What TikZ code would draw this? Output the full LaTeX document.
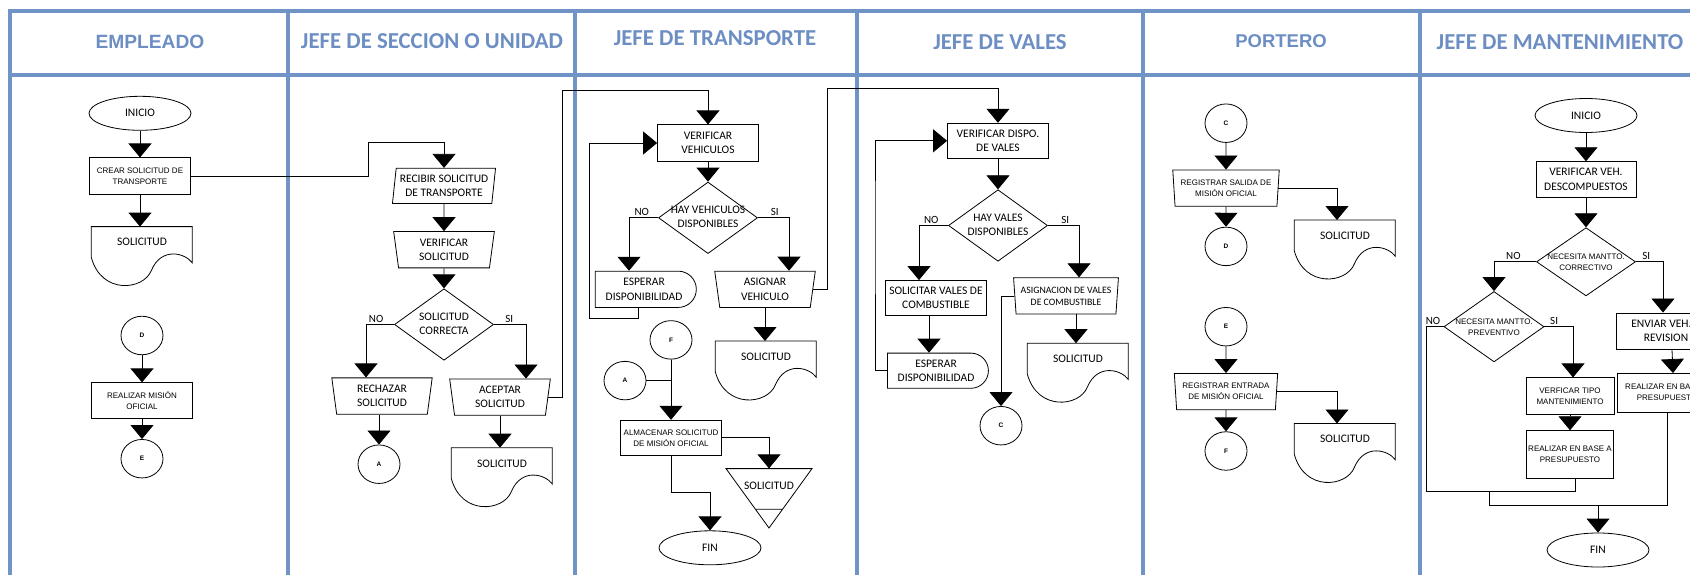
\documentclass[tikz,border=0pt]{standalone}
\usepackage{fontspec}
\setmainfont{Carlito}
\newfontfamily\arialf{Liberation Sans}
\usepackage{tikz}
\usetikzlibrary{positioning,shapes.geometric,shapes.misc,arrows.meta}
\usepackage{xcolor}

\definecolor{lanec}{RGB}{112,148,198}
\definecolor{headc}{RGB}{108,142,195}

% text of a diamond, kept out of the shape size
\newcommand{\zb}[1]{\makebox[0pt]{\raisebox{-3pt}[0pt][0pt]{\begin{tabular}{@{}c@{}}#1\end{tabular}}}}

% document symbol: name, top centre
\newcommand{\solicitud}[2]{%
  \node[doc] (#1) at #2 {SOLICITUD};
  \draw[line width=0.8pt, shift={(#1.north west)}] (0,0) -- (101,0) -- (101,33)
    .. controls (94,24) and (70,18) .. (60,40)
    .. controls (52,58) and (10,62) .. (0,28) -- cycle;}

\tikzset{
  lane/.style={draw=lanec, line width=4pt},
  head/.style={text=headc, font=\bfseries\fontsize{22.8}{26}\selectfont},
  shp/.style={draw, line width=0.8pt, align=center, inner sep=0pt, font=\fontsize{11.5}{14.3}\selectfont},
  proc/.style={shp, rectangle, minimum width=101pt, minimum height=36.3pt},
  manual/.style={shp, trapezium, trapezium left angle=97, trapezium right angle=97,
    trapezium stretches=true, minimum width=101pt, minimum height=36.3pt},
  inbox/.style={shp, trapezium, trapezium left angle=81, trapezium right angle=99,
    trapezium stretches=true, minimum width=104pt, minimum height=35.2pt},
  dec/.style={shp, diamond, minimum width=99pt, minimum height=71.5pt},
  delay/.style={shp, rounded rectangle, rounded rectangle left arc=none, minimum width=101pt, minimum height=36.3pt},
  term/.style={shp, ellipse, minimum width=102pt, minimum height=34pt},
  conn/.style={shp, ellipse, minimum width=42pt, minimum height=38.5pt, font=\arialf\bfseries\fontsize{6.5}{7}\selectfont},
  small/.style={font=\arialf\fontsize{8}{11}\selectfont},
  doc/.style={rectangle, anchor=north, minimum width=101pt, minimum height=31pt, inner sep=0pt, font=\fontsize{11.5}{14}\selectfont},
  lbl/.style={above, inner sep=1.5pt, font=\fontsize{11}{13}\selectfont},
  flow/.style={draw, line width=0.8pt, -{Triangle[width=23pt,length=14pt]}},
  wire/.style={draw, line width=0.8pt}
}

\begin{document}
\begin{tikzpicture}[x=1pt, y=-1.1pt]
  \useasboundingbox (0pt,0pt) rectangle (1690pt,-575pt);
  \clip (0pt,0pt) rectangle (1690pt,-575pt);

  % lanes
  \draw[lane] (8,10) -- (1700,10);
  \draw[lane] (8,68) -- (1700,68);
  \foreach \x in {10,288,575,857,1143,1420}
    \draw[lane] (\x,8) -- (\x,540);

  \node[head, font=\arialf\bfseries\fontsize{19.2}{22}\selectfont] (h-emp) at (150,38) {EMPLEADO};
  \node[head] (h-sec) at (432,37) {JEFE DE SECCION O UNIDAD};
  \node[head] (h-tra) at (715,35) {JEFE DE TRANSPORTE};
  \node[head] (h-val) at (1000,38) {JEFE DE VALES};
  \node[head, font=\arialf\bfseries\fontsize{18.5}{22}\selectfont] (h-por) at (1281,37) {PORTERO};
  \node[head] (h-man) at (1560,38) {JEFE DE MANTENIMIENTO};

  % empleado
  \node[term] (e-ini) at (140,103) {INICIO};
  \node[proc, small] (e-crear) at (140,160) {CREAR SOLICITUD DE\\TRANSPORTE};
  \solicitud{e-sol}{(142,206)}
  \node[conn] (e-d) at (142,305) {D};
  \node[proc, small, minimum height=35.2pt] (e-real) at (142,364) {REALIZAR MISIÓN\\OFICIAL};
  \node[conn] (e-e) at (142,417) {E};

  % jefe de seccion
  \node[inbox] (s-rec) at (444,169) {RECIBIR SOLICITUD\\DE TRANSPORTE};
  \node[manual] (s-ver) at (444,227) {VERIFICAR\\SOLICITUD};
  \node[dec] (s-dec) at (444,295) {\zb{SOLICITUD\\CORRECTA}};
  \node[manual] (s-rech) at (382,360) {RECHAZAR\\SOLICITUD};
  \node[conn] (s-a) at (379,422) {A};
  \node[manual] (s-acep) at (500,361) {ACEPTAR\\SOLICITUD};
  \solicitud{s-sol}{(502,407)}

  % jefe de transporte
  \node[proc] (t-ver) at (708,130) {VERIFICAR\\VEHICULOS};
  \node[dec] (t-dec) at (708,198) {\zb{HAY VEHICULOS\\DISPONIBLES}};
  \node[delay] (t-esp) at (644,263) {ESPERAR\\DISPONIBILIDAD};
  \node[manual] (t-asig) at (765,263) {ASIGNAR\\VEHICULO};
  \solicitud{t-sol}{(766,310)}
  \node[conn] (t-f) at (671,309) {F};
  \node[conn] (t-a) at (625,346) {A};
  \node[proc, small, minimum height=35.2pt] (t-alm) at (671,398) {ALMACENAR SOLICITUD\\DE MISIÓN OFICIAL};
  \node[doc, anchor=center, minimum width=86pt, minimum height=35.2pt] (t-arch) at (769,442) {SOLICITUD};
  \draw[line width=0.8pt, shift={(t-arch.center)}] (-43,-16) -- (43,-16) -- (0,38) -- cycle
    (-13.5,21) -- (13.5,21);
  \node[term] (t-fin) at (710,498) {FIN};

  % jefe de vales
  \node[proc, minimum height=35.2pt] (v-ver) at (998,128) {VERIFICAR DISPO.\\DE VALES};
  \node[dec] (v-dec) at (998,205) {\zb{HAY VALES\\DISPONIBLES}};
  \node[proc, minimum height=35.2pt] (v-sol1) at (936,271) {SOLICITAR VALES DE\\COMBUSTIBLE};
  \node[delay, minimum height=35.2pt] (v-esp) at (936,337) {ESPERAR\\DISPONIBILIDAD};
  \node[manual, font=\fontsize{9.8}{12}\selectfont, minimum width=105pt] (v-asig) at (1066,269) {ASIGNACION DE VALES\\DE COMBUSTIBLE};
  \node[conn] (v-c) at (1001,387) {C};
  \solicitud{v-sol}{(1078,312)}

  % portero
  \node[conn] (p-c) at (1226,112) {C};
  \node[manual, small, minimum width=107pt] (p-sal) at (1226,171) {REGISTRAR SALIDA DE\\MISIÓN OFICIAL};
  \node[conn] (p-d) at (1226,224) {D};
  \solicitud{p-sol1}{(1345,200)}
  \node[conn] (p-e) at (1226,297) {E};
  \node[manual, small, minimum width=104pt] (p-ent) at (1226,356) {REGISTRAR ENTRADA\\DE MISIÓN OFICIAL};
  \node[conn] (p-f) at (1226,410) {F};
  \solicitud{p-sol2}{(1345,385)}

  % jefe de mantenimiento
  \node[term] (m-ini) at (1586,105) {INICIO};
  \node[proc, minimum width=100pt, minimum height=35.2pt] (m-ver) at (1586,163) {VERIFICAR VEH.\\DESCOMPUESTOS};
  \node[dec, small, minimum height=68.2pt] (m-dec1) at (1586,238) {\zb{NECESITA MANTTO.\\CORRECTIVO}};
  \node[dec, small, minimum width=100pt, minimum height=70.4pt] (m-dec2) at (1494,297) {\zb{NECESITA MANTTO.\\PREVENTIVO}};
  \node[proc, small, minimum width=88pt] (m-vtipo) at (1570,360) {VERFICAR TIPO\\MANTENIMIENTO};
  \node[proc, small, minimum width=87pt, minimum height=47.3pt] (m-real1) at (1570,413) {REALIZAR EN BASE A\\PRESUPUESTO};
  \node[proc, minimum width=100pt] (m-env) at (1666,301) {ENVIAR VEH. A\\REVISION};
  \node[proc, small, minimum width=100pt, minimum height=38.5pt] (m-real2) at (1667,357) {REALIZAR EN BASE A\\PRESUPUESTO};
  \node[term] (m-fin) at (1598,500) {FIN};

  % bends
  \coordinate (k1) at (368,129);
  \coordinate (k2) at (562,82);
  \coordinate (k3) at (589,289);
  \coordinate (k4) at (827,80);
  \coordinate (k5) at (671,448);
  \coordinate (k6) at (875,200);
  \coordinate (k7) at (1426,447);
  \coordinate (k8) at (1489,447);
  \coordinate (k9) at (1598,459);

  % empleado
  \draw[flow] (e-ini) -- (e-crear);
  \draw[flow] (e-crear.south) -- (e-crear.south |- e-sol.north);
  \draw[flow] (e-d) -- (e-real);
  \draw[flow] (e-real) -- (e-e);
  \draw[flow] (e-crear.east) -| (k1) -| (s-rec.north);

  % jefe de seccion
  \draw[flow] (s-rec) -- (s-ver);
  \draw[flow] (s-ver) -- (s-dec);
  \draw[flow] (s-dec.west) -| ([xshift=-16pt]s-rech.north) node[lbl, pos=.32] {NO};
  \draw[flow] (s-dec.east) -| ([xshift=26pt]s-acep.north) node[lbl, pos=.24] {SI};
  \draw[flow] (s-rech.south -| s-a.north) -- (s-a.north);
  \draw[flow] (s-acep.south) -- (s-acep.south |- s-sol.north);
  \draw[flow] (s-acep.east) -| (k2) -| (t-ver.north);

  % jefe de transporte
  \draw[flow] (t-ver) -- (t-dec);
  \draw[flow] (t-dec.west) -| ([xshift=-15pt]t-esp.north) node[lbl, pos=.28] {NO};
  \draw[flow] (t-dec.east) -| ([xshift=24pt]t-asig.north) node[lbl, pos=.27] {SI};
  \draw[flow] ([xshift=-6pt]t-esp.south) |- (k3) |- (t-ver.west);
  \draw[flow] (t-asig.east) -| (k4) -| (v-ver.north);
  \draw[flow] (t-asig.south) -- (t-asig.south |- t-sol.north);
  \draw[flow] (t-f) -- (t-alm);
  \draw[wire] (t-a.east) -- (t-a.east -| t-f.south);
  \draw[flow] (t-alm.east) -| (t-arch.north);
  \draw[flow] (t-alm.south) -- (k5) -| (t-fin.north);

  % jefe de vales
  \draw[flow] (v-ver) -- (v-dec);
  \draw[flow] (v-dec.west) -| ([xshift=-17pt]v-sol1.north) node[lbl, pos=.29] {NO};
  \draw[flow] (v-dec.east) -| ([xshift=13pt]v-asig.north) node[lbl, pos=.28] {SI};
  \draw[flow] ([xshift=-7pt]v-sol1.south) -- ([xshift=-7pt]v-esp.north);
  \draw[flow] (v-esp.west) -| (k6) |- (v-ver.west);
  \draw[flow] (v-asig.west) -| (v-c.north);
  \draw[flow] ([xshift=10pt]v-asig.south) -- ([xshift=10pt]v-asig.south |- v-sol.north);

  % portero
  \draw[flow] (p-c) -- (p-sal);
  \draw[flow] (p-sal) -- (p-d);
  \draw[flow] (p-sal.east) -| ([xshift=-8pt]p-sol1.north);
  \draw[flow] (p-e) -- (p-ent);
  \draw[flow] (p-ent) -- (p-f);
  \draw[flow] (p-ent.east) -| ([xshift=-8pt]p-sol2.north);

  % jefe de mantenimiento
  \draw[flow] (m-ini) -- (m-ver);
  \draw[flow] (m-ver) -- (m-dec1);
  \draw[flow] (m-dec1.west) -| (m-dec2.north) node[lbl, pos=.27] {NO};
  \draw[flow] (m-dec1.east) -| ([xshift=-3pt]m-env.north) node[lbl, pos=.19] {SI};
  \draw[flow] (m-dec2.east) -| ([xshift=3pt]m-vtipo.north) node[lbl, pos=.17] {SI};
  \draw[flow] (m-vtipo) -- (m-real1);
  \draw[flow] ([xshift=6pt]m-env.south) -- ([xshift=6pt]m-real2.north);
  \draw[wire] (m-dec2.west) -| (k7) node[lbl, pos=.3] {NO} -| ([xshift=5pt]m-real1.south);
  \draw[wire] (k8) |- (k9) -| (m-real2.south);
  \draw[flow] (k9) -- (m-fin.north);
\end{tikzpicture}
\end{document}
